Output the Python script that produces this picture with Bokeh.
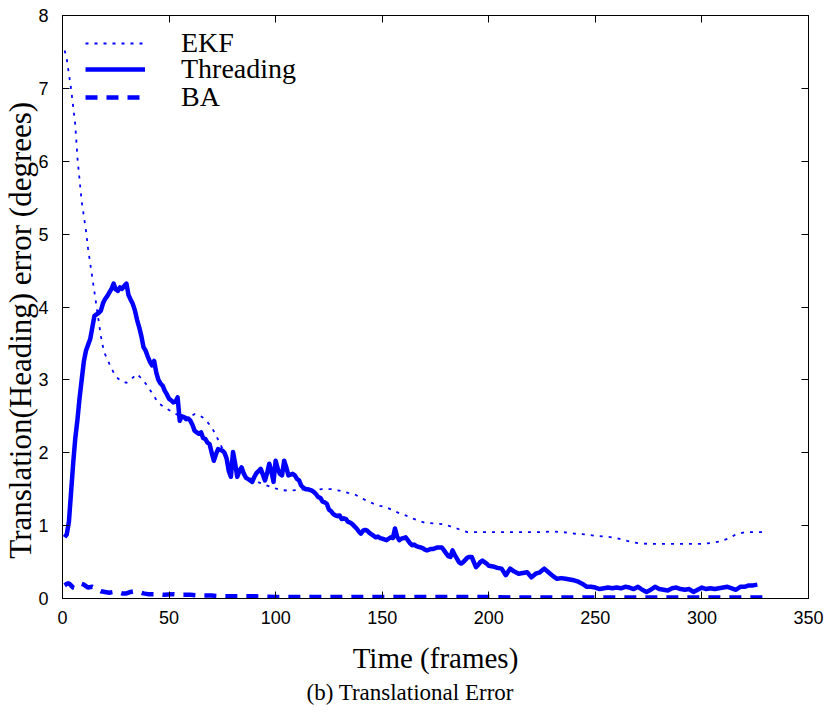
from bokeh.plotting import figure
from bokeh.models import (LinearAxis, Title, Legend, LegendItem, FixedTicker,
                          CustomJSTickFormatter)
from bokeh.embed import file_html
from bokeh.resources import INLINE

# ---------------- data ----------------
X_TICKS = [0, 50, 100, 150, 200, 250, 300, 350]
Y_TICKS = [0, 1, 2, 3, 4, 5, 6, 7, 8]

EKF_FRAMES = [1, 2, 3, 4, 5, 6, 7, 8, 9, 10, 11, 12, 13, 14, 15, 16, 17, 18, 19, 20,
              22, 24, 26, 28, 30, 32, 34, 35, 37, 39, 42, 45, 48, 51, 54, 57, 60, 62,
              64, 66, 68, 70, 72, 74, 76, 78, 80, 82, 84, 86, 88, 90, 94, 98, 102, 106,
              110, 114, 118, 122, 126, 130, 134, 137, 140, 143, 146, 149, 152, 155, 158,
              161, 164, 167, 170, 174, 178, 182, 186, 190, 195, 200, 205, 210, 215, 220,
              225, 230, 235, 240, 245, 250, 255, 260, 265, 270, 275, 280, 285, 290, 295,
              300, 304, 308, 312, 316, 320, 324, 328, 330]
EKF_ERR = [7.52, 7.4, 7.2, 7.0, 6.75, 6.5, 6.05, 5.75, 5.45, 5.25, 5.05, 4.8, 4.6, 4.4,
           4.2, 4.0, 3.8, 3.6, 3.45, 3.35, 3.22, 3.1, 3.02, 2.98, 2.96, 3.0, 3.06, 3.08,
           3.02, 2.95, 2.82, 2.68, 2.62, 2.57, 2.52, 2.49, 2.5, 2.53, 2.52, 2.48, 2.42,
           2.35, 2.24, 2.12, 2.0, 1.92, 1.83, 1.76, 1.71, 1.68, 1.65, 1.62, 1.57, 1.53,
           1.49, 1.48, 1.49, 1.5, 1.49, 1.5, 1.5, 1.48, 1.45, 1.43, 1.38, 1.34, 1.3, 1.27,
           1.25, 1.21, 1.17, 1.14, 1.1, 1.07, 1.04, 1.03, 1.02, 0.99, 0.95, 0.91, 0.91,
           0.91, 0.91, 0.91, 0.91, 0.91, 0.91, 0.92, 0.91, 0.89, 0.88, 0.86, 0.85, 0.83,
           0.79, 0.76, 0.75, 0.75, 0.75, 0.75, 0.75, 0.75, 0.76, 0.78, 0.82, 0.88, 0.91,
           0.91, 0.91, 0.9]

THR_FRAMES = list(range(1, 201)) + list(range(202, 327, 2))
THR_ERR = [0.84, 0.88, 1.05, 1.45, 1.85, 2.2, 2.45, 2.75, 3.0, 3.25,
           3.4, 3.48, 3.56, 3.72, 3.88, 3.9, 3.92, 3.95, 4.05, 4.11,
           4.15, 4.2, 4.25, 4.32, 4.24, 4.22, 4.27, 4.25, 4.29, 4.32,
           4.16, 4.1, 4.04, 3.95, 3.82, 3.72, 3.6, 3.45, 3.4, 3.32,
           3.25, 3.2, 3.26, 3.1, 3.0, 2.95, 2.92, 2.85, 2.8, 2.74,
           2.72, 2.69, 2.7, 2.76, 2.44, 2.5, 2.49, 2.46, 2.47, 2.44,
           2.38, 2.3, 2.28, 2.26, 2.28, 2.2, 2.19, 2.14, 2.12, 2.0,
           1.89, 1.98, 2.05, 2.04, 2.03, 2.0, 1.92, 1.75, 1.67, 2.01,
           1.85, 1.67, 1.75, 1.8, 1.72, 1.66, 1.64, 1.62, 1.6, 1.67,
           1.72, 1.75, 1.78, 1.7, 1.62, 1.72, 1.85, 1.75, 1.6, 1.89,
           1.78, 1.71, 1.69, 1.89, 1.8, 1.69, 1.7, 1.71, 1.69, 1.64,
           1.62, 1.55, 1.52, 1.5, 1.5, 1.49, 1.48, 1.46, 1.43, 1.39,
           1.38, 1.33, 1.32, 1.3, 1.22, 1.2, 1.16, 1.14, 1.13, 1.14,
           1.09, 1.1, 1.09, 1.05, 1.04, 1.02, 0.99, 0.96, 0.92, 0.89,
           0.93, 0.94, 0.93, 0.9, 0.88, 0.86, 0.84, 0.85, 0.83, 0.82,
           0.81, 0.8, 0.82, 0.84, 0.83, 0.96, 0.85, 0.8, 0.82, 0.83,
           0.84, 0.8, 0.76, 0.73, 0.74, 0.72, 0.71, 0.7, 0.69, 0.67,
           0.66, 0.67, 0.68, 0.68, 0.69, 0.7, 0.7, 0.7, 0.66, 0.62,
           0.58, 0.57, 0.66, 0.6, 0.55, 0.5, 0.48, 0.5, 0.53, 0.56,
           0.57, 0.57, 0.5, 0.43, 0.46, 0.5, 0.52, 0.5, 0.48, 0.45,
           0.44, 0.42, 0.41, 0.32, 0.41, 0.37, 0.34, 0.35, 0.36, 0.29,
           0.34, 0.36, 0.41, 0.36, 0.31, 0.27, 0.28, 0.27, 0.26, 0.25,
           0.23, 0.2, 0.16, 0.16, 0.15, 0.13, 0.14, 0.15, 0.14, 0.15,
           0.14, 0.16, 0.15, 0.13, 0.16, 0.12, 0.09, 0.12, 0.16, 0.13,
           0.12, 0.11, 0.14, 0.15, 0.13, 0.12, 0.13, 0.09, 0.12, 0.15,
           0.13, 0.14, 0.13, 0.14, 0.15, 0.16, 0.14, 0.12, 0.16, 0.16,
           0.18, 0.18, 0.19]

BA_FRAMES = [1, 2, 3, 4, 5, 6, 7, 8, 9, 10, 12, 14, 16, 18, 20, 22, 24, 26, 28, 30, 32,
             34, 36, 38, 40, 44, 48, 52, 56, 60, 65, 70, 75, 80, 90, 100, 110, 120, 130,
             140, 150, 160, 170, 180, 190, 200, 210, 220, 230, 240, 250, 260, 270, 280,
             290, 300, 310, 320, 330]
BA_ERR = [0.18, 0.2, 0.21, 0.18, 0.15, 0.14, 0.16, 0.18, 0.2, 0.19, 0.15, 0.16, 0.13,
          0.1, 0.09, 0.08, 0.09, 0.09, 0.07, 0.07, 0.09, 0.1, 0.09, 0.07, 0.06, 0.06,
          0.05, 0.06, 0.05, 0.05, 0.04, 0.04, 0.03, 0.03, 0.03, 0.02, 0.02, 0.02, 0.02,
          0.02, 0.02, 0.02, 0.02, 0.02, 0.02, 0.02, 0.015, 0.015, 0.015, 0.015, 0.015,
          0.015, 0.015, 0.015, 0.015, 0.015, 0.015, 0.015, 0.015]

SERIES_LABELS = ["EKF", "Threading", "BA"]

BLUE = "#0000ff"
SERIF = "Liberation Serif"
SANS = "Liberation Sans"

p = figure(width=824, height=715, x_range=(0, 350), y_range=(0, 8),
           output_backend="svg", toolbar_location=None,
           min_border_left=62, min_border_right=16, min_border_top=15,
           min_border_bottom=117, x_axis_location=None, y_axis_location=None)
p.xgrid.visible = False
p.ygrid.visible = False
p.outline_line_color = "black"
p.outline_line_width = 1
p.background_fill_color = "white"
p.border_fill_color = "white"

def style_axis(ax, ticks, show_labels):
    ax.ticker = FixedTicker(ticks=ticks)
    ax.minor_tick_line_color = None
    ax.major_tick_in = 7
    ax.major_tick_out = 0
    ax.axis_line_color = "black"
    ax.major_tick_line_color = "black"
    if show_labels:
        ax.major_label_text_font = SANS
        ax.major_label_text_font_size = "18px"
        ax.major_label_text_color = "black"
    else:
        ax.formatter = CustomJSTickFormatter(code="return ''")
        ax.major_label_standoff = 0

xb = LinearAxis(axis_label="Time (frames)")
style_axis(xb, X_TICKS, True)
xb.major_label_standoff = 12
xb.axis_label_text_font = SERIF
xb.axis_label_text_font_style = "normal"
xb.axis_label_text_font_size = "29px"
xb.axis_label_text_color = "black"
xb.axis_label_standoff = 15
p.add_layout(xb, "below")

# trailing no-break spaces move the centred label a little lower, as in the reference
yl = LinearAxis(axis_label="Translation(Heading) error (degrees)" + "\u00a0" * 6)
style_axis(yl, Y_TICKS, True)
yl.major_label_standoff = 14
yl.axis_label_text_font = SERIF
yl.axis_label_text_font_style = "normal"
yl.axis_label_text_font_size = "31px"
yl.axis_label_text_color = "black"
yl.axis_label_standoff = -3
p.add_layout(yl, "left")

xt = LinearAxis()
style_axis(xt, X_TICKS, False)
p.add_layout(xt, "above")
yr = LinearAxis()
style_axis(yr, Y_TICKS, False)
p.add_layout(yr, "right")

cap = Title(text="(b)  Translational Error", align="left", offset=244, standoff=2,
            text_font=SERIF, text_font_size="23px", text_font_style="normal",
            text_color="black")
p.add_layout(cap, "below")

r_ekf = p.line(EKF_FRAMES, EKF_ERR, line_color=BLUE, line_width=1.8, line_dash="3 6")
r_thr = p.line(THR_FRAMES, THR_ERR, line_color=BLUE, line_width=4.5, line_join="round")
r_ba = p.line(BA_FRAMES, BA_ERR, line_color=BLUE, line_width=4.5, line_dash="12 9")

# one legend per entry so the rows can sit closer than the text height
for lab, rend, ybot in zip(SERIES_LABELS, [r_ekf, r_thr, r_ba], [539, 513, 485]):
    lg = Legend(items=[LegendItem(label=lab, renderers=[rend])],
                location=(23, ybot), orientation="vertical",
                label_text_font=SERIF, label_text_font_size="28px",
                label_text_color="black",
                glyph_width=60, glyph_height=20, label_standoff=36,
                spacing=0, padding=0, margin=0,
                border_line_color=None, background_fill_alpha=0)
    p.add_layout(lg, "center")

open("out.html", "w").write(file_html(p, INLINE))
